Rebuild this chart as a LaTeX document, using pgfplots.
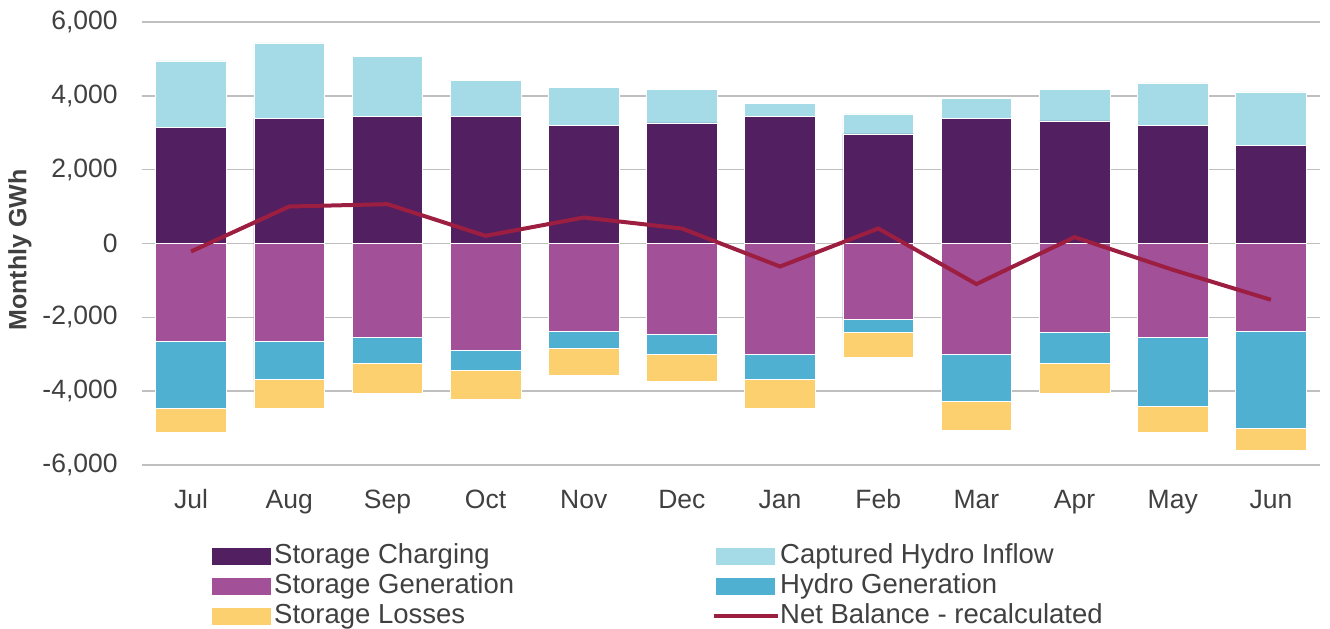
\documentclass[border=0pt]{standalone}
\usepackage{fontspec}
\setmainfont{Liberation Sans}
\usepackage{pgfplots}
\pgfplotsset{compat=1.18}
\definecolor{charge}{HTML}{521F60}
\definecolor{inflow}{HTML}{A5DAE7}
\definecolor{sgen}{HTML}{A25098}
\definecolor{hgen}{HTML}{4FB0D2}
\definecolor{loss}{HTML}{FCD06F}
\definecolor{netc}{HTML}{9C1E41}
\definecolor{gridc}{HTML}{BFBFBF}
\definecolor{txt}{HTML}{404040}
\begin{document}
\fontsize{13.25}{15}\selectfont
\begin{tikzpicture}
\begin{axis}[name=ax, scale only axis, width=589pt, height=221.5pt,
  xmin=-0.5, xmax=11.5, ymin=-6000, ymax=6000,
  axis line style={draw=none}, major tick length=0pt,
  ytick={-6000,-4000,-2000,0,2000,4000,6000},
  yticklabels={{-6,000},{-4,000},{-2,000},{0},{2,000},{4,000},{6,000}},
  xtick={0,1,2,3,4,5,6,7,8,9,10,11},
  xticklabels={Jul,Aug,Sep,Oct,Nov,Dec,Jan,Feb,Mar,Apr,May,Jun},
  ymajorgrids, grid style={color=gridc, line width=0.8pt},
  tick label style={color=txt, font=\fontsize{13.25}{15}\selectfont},
  yticklabel style={anchor=east, inner sep=0pt, xshift=-12pt},
  xticklabel style={anchor=north, inner sep=0pt, text height=9.6pt, yshift=-12pt},
  ylabel={Monthly GWh},
  ylabel style={font=\bfseries\fontsize{12.5}{14}\selectfont, color=txt,
    at={(axis description cs:0,0.5)}, anchor=center, yshift=61pt, xshift=-3.25pt},
  legend columns=2, legend cell align=left,
  legend style={at={(0,0)}, anchor=north west, xshift=35pt, yshift=-39pt,
    draw=none, fill=none, inner sep=0pt, row sep=2.3pt,
    /tikz/every even column/.append style={column sep=99pt},
    nodes={inner sep=0pt, text height=9.85pt, text depth=2.85pt, text=txt,
      font=\fontsize{13.75}{15.5}\selectfont}},
  clip=false,
]
% positive stack: top of Captured Hydro Inflow (cumulative), then Storage Charging
\addplot[ybar, bar width=0.72, bar shift=0pt, fill=inflow, draw=white, line width=0.3pt, forget plot]
  coordinates {(0,4946) (1,5433) (2,5063) (3,4413) (4,4223) (5,4169) (6,3801) (7,3511) (8,3925) (9,4169) (10,4350) (11,4107)};
\addplot[ybar, bar width=0.72, bar shift=0pt, fill=charge, draw=white, line width=0.3pt, forget plot]
  coordinates {(0,3151) (1,3384) (2,3438) (3,3449) (4,3205) (5,3268) (6,3438) (7,2970) (8,3384) (9,3322) (10,3205) (11,2664)};
% negative stack: bottom of Storage Losses, bottom of Hydro Generation, Storage Generation (cumulative)
\addplot[ybar, bar width=0.72, bar shift=0pt, fill=loss, draw=white, line width=0.3pt, forget plot]
  coordinates {(0,-5116) (1,-4467) (2,-4050) (3,-4223) (4,-3563) (5,-3744) (6,-4467) (7,-3086) (8,-5062) (9,-4050) (10,-5116) (11,-5604)};
\addplot[ybar, bar width=0.72, bar shift=0pt, fill=hgen, draw=white, line width=0.3pt, forget plot]
  coordinates {(0,-4467) (1,-3690) (2,-3257) (3,-3438) (4,-2851) (5,-3013) (6,-3690) (7,-2417) (8,-4285) (9,-3257) (10,-4402) (11,-4997)};
\addplot[ybar, bar width=0.72, bar shift=0pt, fill=sgen, draw=white, line width=0.3pt, forget plot]
  coordinates {(0,-2661) (1,-2661) (2,-2545) (3,-2905) (4,-2372) (5,-2472) (6,-3013) (7,-2066) (8,-3013) (9,-2417) (10,-2545) (11,-2372)};
% net balance
\addplot[netc, line width=2pt, forget plot]
  coordinates {(0,-216) (1,1002) (2,1066) (3,208) (4,704) (5,406) (6,-623) (7,406) (8,-1099) (9,173) (10,-712) (11,-1524)};
% legend
\addlegendimage{legend image code/.code={\fill[charge] (0pt,-4pt) rectangle (29pt,4pt); \path (30.5pt,0pt);}}
\addlegendentry{Storage Charging}
\addlegendimage{legend image code/.code={\fill[inflow] (0pt,-4pt) rectangle (29pt,4pt); \path (30.5pt,0pt);}}
\addlegendentry{Captured Hydro Inflow}
\addlegendimage{legend image code/.code={\fill[sgen] (0pt,-4pt) rectangle (29pt,4pt); \path (30.5pt,0pt);}}
\addlegendentry{Storage Generation}
\addlegendimage{legend image code/.code={\fill[hgen] (0pt,-4pt) rectangle (29pt,4pt); \path (30.5pt,0pt);}}
\addlegendentry{Hydro Generation}
\addlegendimage{legend image code/.code={\fill[loss] (0pt,-4pt) rectangle (29pt,4pt); \path (30.5pt,0pt);}}
\addlegendentry{Storage Losses}
\addlegendimage{legend image code/.code={\draw[netc, line width=2pt] (-1pt,0pt) -- (31pt,0pt); \path (30.5pt,0pt);}}
\addlegendentry{Net Balance - recalculated}
\end{axis}
\pgfresetboundingbox
\path[use as bounding box] ([shift={(-71pt,-81.5pt)}]ax.south west) rectangle ([shift={(5pt,11pt)}]ax.north east);
\end{tikzpicture}
\end{document}
